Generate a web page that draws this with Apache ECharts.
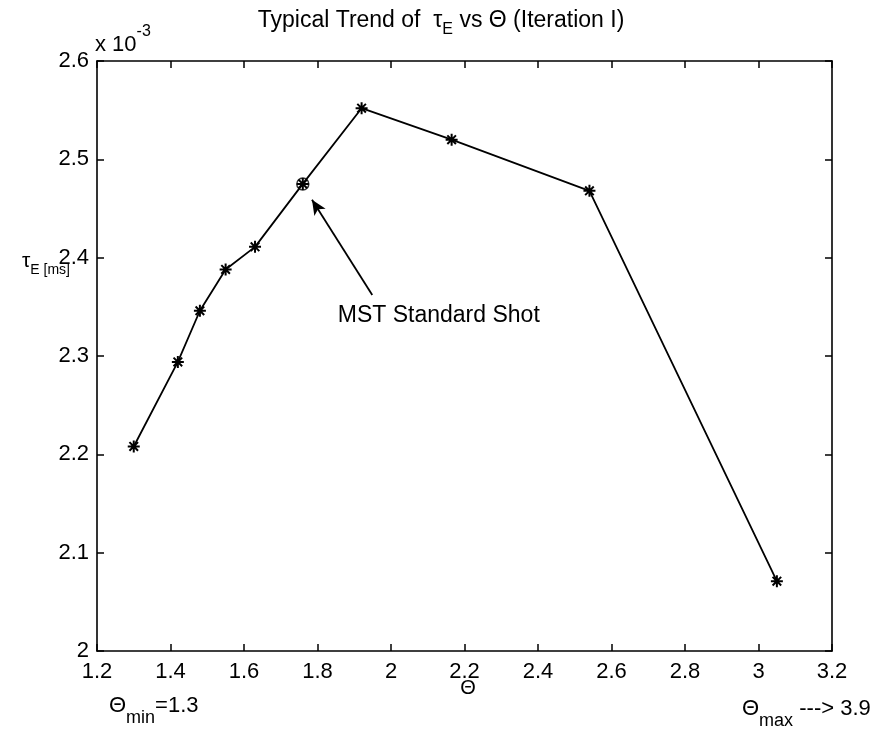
<!DOCTYPE html>
<html>
<head>
<meta charset="utf-8">
<script src="https://cdn.jsdelivr.net/npm/echarts@6/dist/echarts.min.js"></script>
<style>html,body{margin:0;padding:0;background:#fff;}#c{width:882px;height:732px;}</style>
</head>
<body>
<div id="c"></div>
<script>
// Theta values
var theta = [1.30, 1.42, 1.48, 1.55, 1.63, 1.76, 1.92, 2.165, 2.54, 3.05];
// tau_E values (x 10^-3)
var tauE = [2.208, 2.294, 2.346, 2.388, 2.411, 2.475, 2.552, 2.520, 2.468, 2.071];
var mstIndex = 5;
var xTicks = [1.2, 1.4, 1.6, 1.8, 2, 2.2, 2.4, 2.6, 2.8, 3, 3.2];
var yTicks = [2, 2.1, 2.2, 2.3, 2.4, 2.5, 2.6];
// annotation arrow (data coords): tail -> head
var arrowTail = [1.949, 2.362];
var arrowHead = [1.785, 2.459];
var annoText = 'MST Standard Shot';
var annoPos = [2.13, 2.341];

var FONT = 'Liberation Sans';
var chart = echarts.init(document.getElementById('c'));
var star = 'path://M0,-6L0,6M-6,0L6,0M-4.3,-4.3L4.3,4.3M-4.3,4.3L4.3,-4.3';
function fmt(v){ return String(+v.toFixed(2)); }
var axisCommon = {
  axisLine: {lineStyle: {color: '#000', width: 1.6}},
  axisTick: {inside: true, length: 7, lineStyle: {color: '#000', width: 1.5}},
  splitLine: {show: false}
};
var option = {
  backgroundColor: '#fff',
  animation: false,
  grid: {left: 97, right: 50, top: 61, bottom: 81},
  xAxis: [
    Object.assign({type: 'value', min: xTicks[0], max: xTicks[xTicks.length-1], interval: 0.2, position: 'bottom',
      axisLabel: {formatter: fmt, color: '#000', fontFamily: FONT, fontSize: 22, margin: 10}}, axisCommon),
    Object.assign({type: 'value', min: xTicks[0], max: xTicks[xTicks.length-1], interval: 0.2, position: 'top',
      axisLabel: {show: false}}, axisCommon)
  ],
  yAxis: [
    Object.assign({type: 'value', min: yTicks[0], max: yTicks[yTicks.length-1], interval: 0.1, position: 'left',
      axisLabel: {formatter: fmt, color: '#000', fontFamily: FONT, fontSize: 22, margin: 8}}, axisCommon),
    Object.assign({type: 'value', min: yTicks[0], max: yTicks[yTicks.length-1], interval: 0.1, position: 'right',
      axisLabel: {show: false}}, axisCommon)
  ],
  series: [
    {
      type: 'line',
      data: theta.map(function(t, i){ return [t, tauE[i]]; }),
      symbol: star, symbolSize: 12,
      itemStyle: {color: 'transparent', borderColor: '#000', borderWidth: 2},
      lineStyle: {color: '#000', width: 1.8},
      markLine: {
        silent: true,
        symbol: ['none', 'arrow'], symbolSize: [10, 15],
        lineStyle: {color: '#000', width: 1.8, type: 'solid'},
        label: {show: false},
        data: [[{coord: arrowTail}, {coord: arrowHead}]]
      },
      markPoint: {
        silent: true,
        symbol: 'circle', symbolSize: 0,
        label: {show: true, formatter: annoText, color: '#000', fontFamily: FONT, fontSize: 23, position: 'inside'},
        data: [{coord: annoPos}]
      }
    },
    {
      type: 'scatter',
      data: [[theta[mstIndex], tauE[mstIndex]]],
      symbol: 'circle', symbolSize: 12,
      itemStyle: {color: 'transparent', borderColor: '#000', borderWidth: 1.5}
    }
  ],
  graphic: [
    {type: 'text', left: 'center', top: 9, style: {
      text: '{m|Typical Trend of  τ}{s|E}{m| vs Θ (Iteration I)}',
      rich: {
        m: {fontFamily: FONT, fontSize: 23, lineHeight: 24, verticalAlign: 'top', color: '#000'},
        s: {fontFamily: FONT, fontSize: 16, lineHeight: 17, padding: [13,0,0,0], verticalAlign: 'top', color: '#000'}
      }}},
    {type: 'text', x: 95, y: 24, style: {
      text: '{m|x 10}{p|-3}',
      rich: {
        m: {fontFamily: FONT, fontSize: 22, lineHeight: 23, padding: [10,0,0,0], verticalAlign: 'top', color: '#000'},
        p: {fontFamily: FONT, fontSize: 16, lineHeight: 17, verticalAlign: 'top', color: '#000'}
      }}},
    {type: 'text', x: 22, y: 251, style: {
      text: '{m|τ}{s|E [ms]}',
      rich: {
        m: {fontFamily: FONT, fontSize: 21, lineHeight: 22, verticalAlign: 'top', color: '#000'},
        s: {fontFamily: FONT, fontSize: 14, lineHeight: 15, padding: [12,0,0,0], verticalAlign: 'top', color: '#000'}
      }}},
    {type: 'text', x: 468, y: 688, style: {text: 'Θ', fontFamily: FONT, fontSize: 20, fill: '#000', align: 'center', verticalAlign: 'middle'}},
    {type: 'text', x: 109, y: 695, style: {
      text: '{m|Θ}{s|min}{m|=1.3}',
      rich: {
        m: {fontFamily: FONT, fontSize: 22, lineHeight: 23, verticalAlign: 'top', color: '#000'},
        s: {fontFamily: FONT, fontSize: 18, lineHeight: 18, padding: [14,0,0,0], verticalAlign: 'top', color: '#000'}
      }}},
    {type: 'text', x: 742, y: 698, style: {
      text: '{m|Θ}{s|max}{m| ---> 3.9}',
      rich: {
        m: {fontFamily: FONT, fontSize: 22, lineHeight: 23, verticalAlign: 'top', color: '#000'},
        s: {fontFamily: FONT, fontSize: 18, lineHeight: 18, padding: [14,0,0,0], verticalAlign: 'top', color: '#000'}
      }}}
  ]
};
chart.setOption(option);
</script>
</body>
</html>
